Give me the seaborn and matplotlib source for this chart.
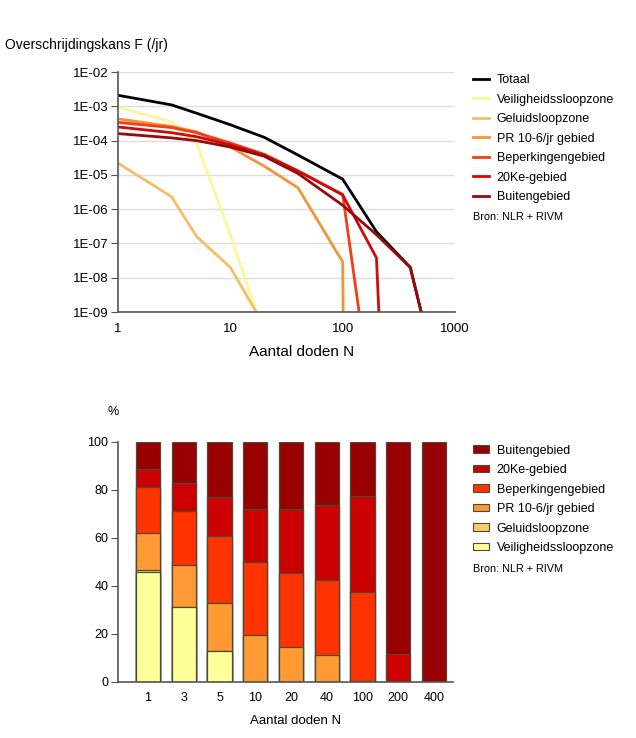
import numpy as np
import pandas as pd
import matplotlib
matplotlib.use("Agg")
import matplotlib.pyplot as plt
from matplotlib.patches import Patch
import seaborn as sns

# Data - FN-curves (overschrijdingskans per jaar)
series_names = ["Totaal", "Veiligheidssloopzone", "Geluidsloopzone", "PR 10-6/jr gebied",
                "Beperkingengebied", "20Ke-gebied", "Buitengebied"]
line_colors = ["#000000", "#fbf79a", "#f4bd66", "#f6923a", "#f43d16", "#cf0a0a", "#980a0a"]

n_totaal = [1, 3, 5, 10, 20, 40, 100, 200, 400, 500]
f_totaal = [2.1e-3, 1.1e-3, 6.3e-4, 2.9e-4, 1.25e-4, 3.8e-5, 7.5e-6, 2.2e-7, 2.0e-8, 1e-9]

n_veilig = [1, 3, 5, 10, 17]
f_veilig = [9.5e-4, 3.5e-4, 8.5e-5, 1.8e-7, 1e-9]

n_geluid = [1, 3, 5, 10, 17]
f_geluid = [2.2e-5, 2.3e-6, 1.6e-7, 2.0e-8, 1e-9]

n_pr = [1, 3, 5, 10, 20, 40, 100, 101]
f_pr = [4.3e-4, 2.6e-4, 1.8e-4, 6.5e-5, 1.8e-5, 4.2e-6, 2.9e-8, 1e-9]

n_beperk = [1, 3, 5, 10, 20, 40, 100, 140]
f_beperk = [3.4e-4, 2.4e-4, 1.7e-4, 8.5e-5, 4.0e-5, 1.3e-5, 2.7e-6, 1e-9]

n_20ke = [1, 3, 5, 10, 20, 40, 100, 200, 210]
f_20ke = [2.5e-4, 1.7e-4, 1.3e-4, 7.5e-5, 3.8e-5, 1.3e-5, 2.6e-6, 3.8e-8, 1e-9]

n_buiten = [1, 3, 5, 10, 20, 40, 100, 200, 400, 500]
f_buiten = [1.6e-4, 1.2e-4, 1.0e-4, 6.5e-5, 3.5e-5, 1.1e-5, 1.3e-6, 1.8e-7, 2.0e-8, 1e-9]

y_ticks = [1e-2, 1e-3, 1e-4, 1e-5, 1e-6, 1e-7, 1e-8, 1e-9]
y_ticklabels = ["1E-02", "1E-03", "1E-04", "1E-05", "1E-06", "1E-07", "1E-08", "1E-09"]
x_ticks = [1, 10, 100, 1000]

# Data - verdeling per gebied (%)
klassen = ["1", "3", "5", "10", "20", "40", "100", "200", "400"]
pct_veilig = [45.7, 31.1, 12.8, 0, 0, 0, 0, 0, 0]
pct_geluid = [0.8, 0, 0, 0, 0, 0, 0, 0, 0]
pct_pr = [15.7, 17.8, 20.3, 19.4, 14.4, 11.1, 0.3, 0, 0]
pct_beperk = [18.9, 22.5, 27.7, 30.5, 31.2, 31.3, 37.1, 0, 0]
pct_20ke = [7.6, 11.7, 16.4, 22.3, 26.3, 31.2, 40.2, 11.7, 0]
pct_buiten = [11.3, 16.9, 22.8, 27.8, 28.1, 26.4, 22.4, 88.3, 100]

bar_colors = ["#ffff99", "#ffcc66", "#ff9933", "#ff3300", "#cc0000", "#990000"]

plt.rcParams["font.family"] = ["Liberation Sans", "DejaVu Sans"]

fig = plt.figure(figsize=(6.36, 7.38), dpi=100)
fig.patch.set_facecolor("white")

# ---- bovenste grafiek: FN-curves
ax1 = fig.add_axes([0.1855, 0.5772, 0.5299, 0.3252])
fn_data = [(n_totaal, f_totaal), (n_veilig, f_veilig), (n_geluid, f_geluid), (n_pr, f_pr),
           (n_beperk, f_beperk), (n_20ke, f_20ke), (n_buiten, f_buiten)]
for name, col, (n, f) in zip(series_names, line_colors, fn_data):
    df = pd.DataFrame({"N": n, "F": f})
    sns.lineplot(data=df, x="N", y="F", color=col, linewidth=2.0, label=name,
                 sort=False, estimator=None, ax=ax1)

ax1.set_xscale("log")
ax1.set_yscale("log")
ax1.set_xlim(1, 1000)
ax1.set_ylim(1e-9, 1e-2)
ax1.set_yticks(y_ticks)
ax1.set_yticklabels(y_ticklabels)
ax1.minorticks_off()
ax1.set_xticks(x_ticks)
ax1.set_xticklabels([str(v) for v in x_ticks])
ax1.tick_params(axis="y", length=5, width=0.8, color="#555555", labelsize=9.5, pad=2)
ax1.tick_params(axis="x", length=0, labelsize=9.5, pad=8)
ax1.grid(axis="y", color="#dddddd", linewidth=1)
ax1.set_axisbelow(True)
for s in ["top", "right"]:
    ax1.spines[s].set_visible(False)
for s in ["left", "bottom"]:
    ax1.spines[s].set_color("#555555")
    ax1.spines[s].set_linewidth(1.2)
ax1.set_xlabel("")
ax1.set_ylabel("")
h, l = ax1.get_legend_handles_labels()
ax1.legend(h, l, loc="upper left", bbox_to_anchor=(0.7437, 0.8993),
           bbox_transform=fig.transFigure, frameon=False, fontsize=9,
           handlelength=1.3, handletextpad=0.6, labelspacing=0.6,
           borderpad=0, borderaxespad=0)

fig.text(5 / 636, 1 - 45 / 738, "Overschrijdingskans F (/jr)", fontsize=10, va="center", ha="left")
fig.text(302 / 636, 1 - 352 / 738, "Aantal doden N", fontsize=11, va="center", ha="center")
fig.text(473 / 636, 1 - 217 / 738, "Bron: NLR + RIVM", fontsize=7.8, va="center", ha="left")

# ---- onderste grafiek: gestapelde staven
ax2 = fig.add_axes([0.1855, 0.0759, 0.5267, 0.3252])
layers = [("Veiligheidssloopzone", pct_veilig), ("Geluidsloopzone", pct_geluid),
          ("PR 10-6/jr gebied", pct_pr), ("Beperkingengebied", pct_beperk),
          ("20Ke-gebied", pct_20ke), ("Buitengebied", pct_buiten)]
cum = np.cumsum(np.array([v for _, v in layers]), axis=0)
# van boven naar beneden tekenen, zodat de lagen elkaar afdekken
for i in range(len(layers) - 1, -1, -1):
    sns.barplot(x=klassen, y=cum[i], color=bar_colors[i], saturation=1, width=0.68,
                edgecolor="#4a4a3a", linewidth=0.9, ax=ax2)

ax2.set_xlim(-0.84, 8.53)
ax2.set_ylim(0, 100)
ax2.set_yticks([0, 20, 40, 60, 80, 100])
ax2.tick_params(axis="y", length=5, width=0.8, color="#555555", labelsize=9, pad=2)
ax2.tick_params(axis="x", length=0, labelsize=9, pad=7)
for s in ["top", "right"]:
    ax2.spines[s].set_visible(False)
for s in ["left", "bottom"]:
    ax2.spines[s].set_color("#555555")
    ax2.spines[s].set_linewidth(1.2)
ax2.set_xlabel("")
ax2.set_ylabel("")

handles = [Patch(facecolor=bar_colors[i], edgecolor="#4a4a3a", linewidth=0.8, label=layers[i][0])
           for i in range(len(layers) - 1, -1, -1)]
ax2.legend(handles=handles, loc="upper left", bbox_to_anchor=(0.7437, 0.3975),
           bbox_transform=fig.transFigure, frameon=False, fontsize=9,
           handlelength=1.3, handleheight=0.55, handletextpad=0.6, labelspacing=0.6,
           borderpad=0, borderaxespad=0)

fig.text(113 / 636, 1 - 412 / 738, "%", fontsize=9, va="center", ha="center")
fig.text(296 / 636, 1 - 721 / 738, "Aantal doden N", fontsize=9.5, va="center", ha="center")
fig.text(473 / 636, 1 - 569 / 738, "Bron: NLR + RIVM", fontsize=7.8, va="center", ha="left")

fig.savefig("out.png", dpi=100)
